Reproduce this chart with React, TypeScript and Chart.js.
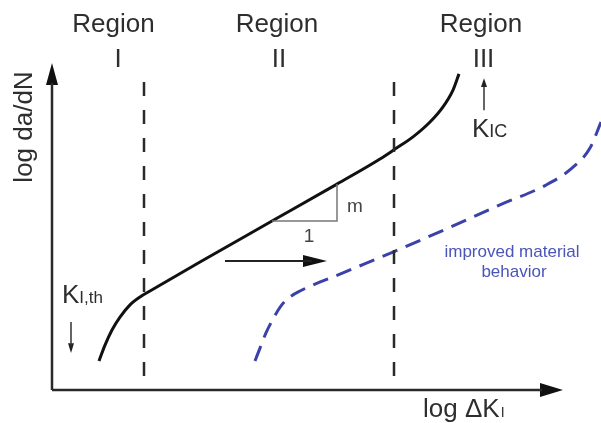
import React, { useEffect, useRef } from "react";
import { Chart, registerables } from "chart.js";

Chart.register(...registerables);

// Schematic data in (log ΔK, log da/dN) units — origin at the axis corner
const crackX = [0.94, 1.06, 1.2, 1.36, 1.56, 1.76, 1.96, 2.96, 4.4, 5.7, 6.56, 6.86, 7.22, 7.56, 7.82, 8.02, 8.14];
const crackY = [0.88, 1.36, 1.82, 2.21, 2.58, 2.82, 3.0, 3.88, 5.12, 6.24, 7.0, 7.3, 7.67, 8.12, 8.58, 9.09, 9.58];

const improvedX = [4.06, 4.16, 4.28, 4.42, 4.58, 4.76, 4.96, 5.82, 6.82, 7.84, 8.96, 9.88, 10.38, 10.76, 10.98];
const improvedY = [0.88, 1.27, 1.73, 2.15, 2.55, 2.82, 3.0, 3.55, 4.18, 4.85, 5.61, 6.21, 6.7, 7.33, 8.12];

const boundaryX = [1.84, 6.84];
const boundaryTop = 9.33;

const slopeX = [4.4, 5.7, 5.7];
const slopeY = [5.12, 5.12, 6.24];

const shiftArrowX = [3.46, 5.2];
const shiftArrowY = [3.91, 3.91];
const shiftHeadX = [5.5, 5.02, 5.02, 5.5];
const shiftHeadY = [3.91, 4.09, 3.73, 3.91];

const yAxisX = [0, 0];
const yAxisY = [0, 9.3];
const yHeadX = [0, -0.12, 0.12, 0];
const yHeadY = [9.91, 9.24, 9.24, 9.91];

const xAxisX = [0, 9.8];
const xAxisY = [0, 0];
const xHeadX = [10.22, 9.76, 9.76, 10.22];
const xHeadY = [0, 0.21, -0.21, 0];

const kthArrowX = [0.38, 0.38];
const kthArrowY = [2.06, 1.35];
const kthHeadX = [0.38, 0.32, 0.44, 0.38];
const kthHeadY = [1.12, 1.42, 1.42, 1.12];

const kicArrowX = [8.64, 8.64];
const kicArrowY = [8.48, 9.2];
const kicHeadX = [8.64, 8.58, 8.7, 8.64];
const kicHeadY = [9.45, 9.18, 9.18, 9.45];

const regionLabels = ["I", "II", "III"];

const pts = (xs: number[], ys: number[]) => xs.map((x, i) => ({ x, y: ys[i] }));

const line = (data: any, color: string, width: number, extra: any = {}) => ({
  data,
  showLine: true,
  borderColor: color,
  borderWidth: width,
  pointRadius: 0,
  pointHoverRadius: 0,
  tension: 0,
  fill: false,
  clip: false,
  ...extra,
});

const poly = (data: any, color: string) => ({
  data,
  showLine: true,
  borderColor: color,
  borderWidth: 0,
  backgroundColor: color,
  pointRadius: 0,
  tension: 0,
  fill: "shape",
  clip: false,
});

const textPlugin = {
  id: "schematicText",
  afterDatasetsDraw(chart: any) {
    const ctx = chart.ctx as CanvasRenderingContext2D;
    const font = "'Liberation Sans', Arial, sans-serif";
    ctx.save();
    ctx.fillStyle = "#2e2e2e";
    ctx.textBaseline = "alphabetic";
    ctx.textAlign = "center";
    ctx.font = `26px ${font}`;
    const regionCx = [113.5, 277, 481];
    const numCx = [118, 279, 483.5];
    regionLabels.forEach((r, i) => {
      ctx.fillText("Region", regionCx[i], 32);
      ctx.fillText(r, numCx[i], 67);
    });

    // y-axis title
    ctx.save();
    ctx.translate(32, 127);
    ctx.rotate(-Math.PI / 2);
    ctx.font = `26px ${font}`;
    ctx.fillText("log da/dN", 0, 0);
    ctx.restore();

    // x-axis title
    ctx.textAlign = "left";
    ctx.font = `26px ${font}`;
    const main = "log ΔK";
    ctx.fillText(main, 423, 417);
    const w = ctx.measureText(main).width;
    ctx.font = `14px ${font}`;
    ctx.fillText("I", 423 + w + 1, 417);

    // K I,th
    ctx.font = `26px ${font}`;
    ctx.fillText("K", 62, 303);
    let kw = ctx.measureText("K").width;
    ctx.font = `17px ${font}`;
    ctx.fillText("I,th", 62 + kw, 303);

    // K IC
    ctx.font = `26px ${font}`;
    ctx.fillText("K", 472, 137);
    kw = ctx.measureText("K").width;
    ctx.font = `18px ${font}`;
    ctx.fillText("IC", 472 + kw, 137);

    // slope labels
    ctx.fillStyle = "#444";
    ctx.font = `19px ${font}`;
    ctx.fillText("m", 347, 212);
    ctx.textAlign = "center";
    ctx.fillText("1", 309, 242);

    // improved material behavior
    ctx.fillStyle = "#4a55b8";
    ctx.font = `17px ${font}`;
    ctx.fillText("improved material", 512, 257);
    ctx.fillText("behavior", 514, 277);
    ctx.restore();
  },
};

export default function App() {
  const ref = useRef<HTMLCanvasElement | null>(null);
  useEffect(() => {
    if (!ref.current) return;
    const dark = "#2a2a2a";
    const chart = new Chart(ref.current, {
      type: "scatter",
      data: {
        datasets: [
          line(pts(yAxisX, yAxisY), dark, 2.5),
          poly(pts(yHeadX, yHeadY), "#111"),
          line(pts(xAxisX, xAxisY), dark, 2.5),
          poly(pts(xHeadX, xHeadY), "#111"),
          line(pts([boundaryX[0], boundaryX[0]], [boundaryTop, 0]), dark, 2.5, { borderDash: [14, 14] }),
          line(pts([boundaryX[1], boundaryX[1]], [boundaryTop, 0]), dark, 2.5, { borderDash: [14, 14] }),
          line(pts(slopeX, slopeY), "#777", 1.5),
          line(pts(improvedX, improvedY), "#3a41a8", 3, {
            borderDash: [16, 9],
            cubicInterpolationMode: "monotone",
          }),
          line(pts(crackX, crackY), "#111", 3, { cubicInterpolationMode: "monotone" }),
          line(pts(shiftArrowX, shiftArrowY), "#222", 2),
          poly(pts(shiftHeadX, shiftHeadY), "#111"),
          line(pts(kthArrowX, kthArrowY), "#333", 1.5),
          poly(pts(kthHeadX, kthHeadY), "#222"),
          line(pts(kicArrowX, kicArrowY), "#333", 1.5),
          poly(pts(kicHeadX, kicHeadY), "#222"),
        ] as any,
      },
      options: {
        responsive: false,
        animation: false,
        devicePixelRatio: 1,
        layout: { padding: 0 },
        plugins: { legend: { display: false }, tooltip: { enabled: false } },
        events: [],
        scales: {
          x: { type: "linear", min: -1.04, max: 10.98, display: false },
          y: { type: "linear", min: -1.0, max: 11.818, display: false },
        },
      } as any,
      plugins: [textPlugin],
    });
    return () => chart.destroy();
  }, []);
  return (
    <div style={{ position: "absolute", left: 0, top: 0, width: 601, height: 423, background: "#fff" }}>
      <canvas ref={ref} width={601} height={423} style={{ width: 601, height: 423 }} />
    </div>
  );
}
